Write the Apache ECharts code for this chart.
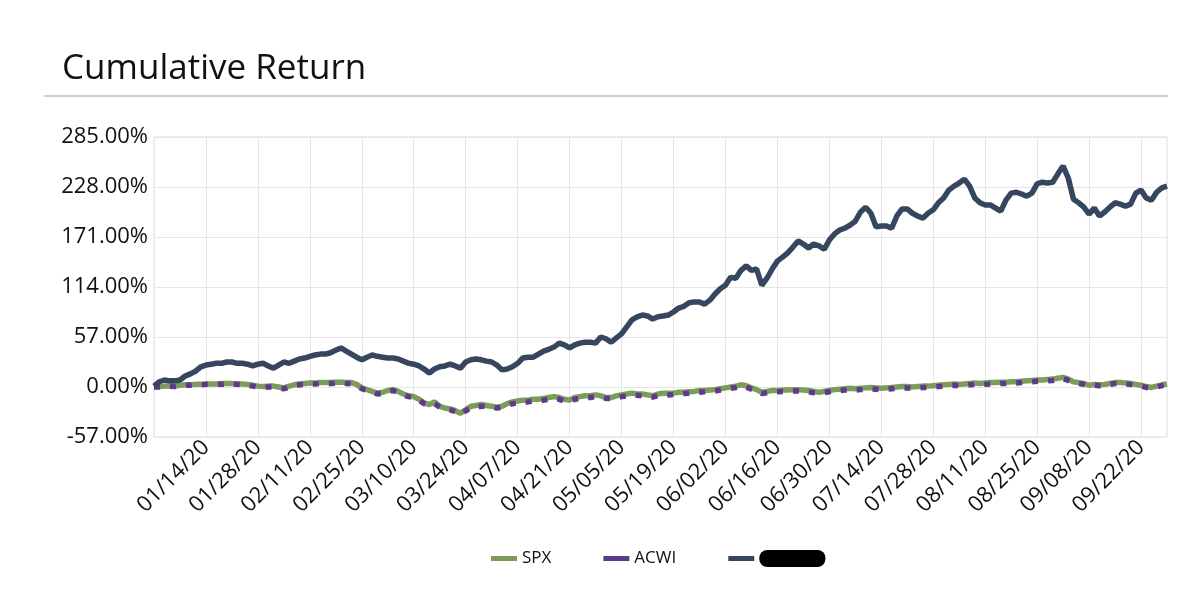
<!DOCTYPE html>
<html>
<head>
<meta charset="utf-8">
<script src="https://cdn.jsdelivr.net/npm/echarts@6/dist/echarts.min.js"></script>
<style>
html,body{margin:0;padding:0;background:#fff;}
#chart{width:1200px;height:602px;}
</style>
</head>
<body>
<div id="chart"></div>
<script>
// Trading-day categories: every weekday from 12/31/2019 to 09/29/2020
const startDate = [2019, 11, 31];
const dayCount = 196;
const categories = [];
(function () {
  const d = new Date(Date.UTC(startDate[0], startDate[1], startDate[2]));
  while (categories.length < dayCount) {
    const wd = d.getUTCDay();
    if (wd !== 0 && wd !== 6) {
      const mm = String(d.getUTCMonth() + 1).padStart(2, '0');
      const dd = String(d.getUTCDate()).padStart(2, '0');
      const yy = String(d.getUTCFullYear()).slice(2);
      categories.push(mm + '/' + dd + '/' + yy);
    }
    d.setUTCDate(d.getUTCDate() + 1);
  }
})();

const tickLabels = ['01/14/20','01/28/20','02/11/20','02/25/20','03/10/20','03/24/20','04/07/20','04/21/20','05/05/20','05/19/20','06/02/20','06/16/20','06/30/20','07/14/20','07/28/20','08/11/20','08/25/20','09/08/20','09/22/20'];

const yTicks = [-57, 0, 57, 114, 171, 228, 285];

const seriesNames = ['SPX', 'ACWI', 'Portfolio'];

const spx = [
  0, 0.5, 1, 1.5, 1, 2, 2.5, 2.5, 3, 3,
  3.5, 3.5, 3.5, 4, 4, 4, 3.5, 3.5, 3, 2,
  1, 0.5, 1, 1, 0, -1, 1, 2.5, 3.5, 4,
  4.5, 4.5, 5, 5, 5, 5.5, 5.5, 5, 5, 3,
  -1, -3, -5, -7, -6, -4, -3, -5, -8, -10,
  -11, -14, -18, -20, -17, -22, -24, -25, -27, -30,
  -26, -22, -21, -20, -21, -22, -23, -22, -19, -17,
  -16, -15, -15, -14, -14, -13, -12, -11, -12, -14,
  -15, -12, -11, -10, -10, -9, -10, -12, -12, -10,
  -9, -8, -7, -8, -8, -9, -10, -8, -7, -7,
  -7, -6, -6, -5.5, -5, -4, -4, -3.5, -3, -2,
  -1, 0, 1, 2.5, 1.5, -1, -3, -6, -5, -4,
  -4, -3.5, -3.5, -3, -3, -3.5, -4, -5, -6, -5,
  -4, -3, -2.5, -2, -1.5, -2, -1.5, -1, -0.5, -1,
  -1.5, -1, -0.5, 0, 0.5, 0.5, 0, 0.5, 1, 1,
  1.5, 2, 2.5, 3, 3.5, 3, 3.5, 4, 4.5, 4,
  4.5, 5, 5, 5.5, 5.5, 6, 6, 6.5, 7, 7.5,
  8, 8, 8.5, 9, 10, 11, 9, 6, 5, 4,
  2, 3, 2.5, 3, 4, 5, 5, 4.5, 4, 3,
  2, 0.5, -0.5, 1, 2.5, 3.5
];

const acwi = [
  0, 0, 0.5, 1, 0.5, 1.5, 2, 2, 2.5, 2.5,
  3, 3, 3, 3, 3.5, 3, 3, 2.5, 2, 1,
  0, -0.5, 0, 0, -1, -2, 0, 1.5, 2.5, 3,
  3.5, 3.5, 4, 4, 4, 4.5, 4.5, 4, 3.5, 1.5,
  -2, -4, -6, -8, -7, -5, -4, -6, -9, -11,
  -12, -15, -19, -21, -19, -23, -25, -26, -28, -31,
  -27, -24, -23, -22, -22, -23, -24, -23, -21, -19,
  -18, -17, -17, -16, -16, -15, -14, -13, -14, -16,
  -17, -14, -13, -12, -12, -11, -12, -13, -13, -12,
  -11, -10, -9, -9.5, -10, -11, -11.5, -10, -9, -9,
  -8.5, -8, -7.5, -7, -6.5, -6, -5.5, -5, -4.5, -3.5,
  -2.5, -1.5, -0.5, 1, 0, -2.5, -4.5, -7.5, -6.5, -5.5,
  -5.5, -5, -5, -4.5, -4.5, -5, -5.5, -6.5, -7, -6.5,
  -5.5, -4.5, -4, -3.5, -3, -3.5, -3, -2.5, -2, -2.5,
  -3, -2.5, -2, -1.5, -1, -1, -1.5, -1, -0.5, -0.5,
  0, 0.5, 1, 1.5, 2, 1.5, 2, 2.5, 3, 2.5,
  3, 3.5, 3.5, 4, 4, 4.5, 4.5, 5, 5.5, 6,
  6.5, 6.5, 7, 7.5, 8.5, 9.5, 7.5, 5, 4, 3,
  1, 2, 1.5, 2, 3, 4, 4, 3.5, 3, 2,
  1, -0.5, -1.5, 0, 1.5, 2.5
];

const portfolio = [
  1, 6, 8, 7, 7, 8, 12.5, 15, 18, 23,
  25, 26, 27, 27, 28.5, 28.5, 27, 27, 26, 24,
  26, 27, 24, 21.5, 25, 28.5, 27, 29.5, 32, 33,
  35, 36.5, 37.5, 37.5, 39, 42, 44.5, 41, 37.5, 34,
  31, 34, 36.5, 35, 34, 33, 33, 32, 29.5, 27,
  26, 24, 20.5, 16, 20.5, 23, 24, 26, 24, 21.5,
  28.5, 31, 32, 31, 29.5, 28.5, 25, 19.5, 20.5, 23,
  27, 33, 34, 34, 37.5, 41, 43, 45.5, 50, 48,
  44.5, 48, 50, 51, 51, 50, 57, 55, 51, 56,
  60.5, 68.5, 76.5, 80, 82, 81, 77.5, 80, 81, 82,
  85.5, 90, 92, 96, 97, 97, 94.5, 99, 106, 112,
  116, 125, 124, 133, 138, 133, 134.5, 116, 124, 134.5,
  143.5, 148, 153, 159.5, 166.5, 163, 158.5, 163, 161, 157,
  167.5, 174.5, 179, 181, 184.5, 189, 199.5, 205, 198, 182.5,
  183.5, 183.5, 181, 195, 203, 203, 198, 195, 192.5, 198,
  202, 210, 215.5, 224.5, 229, 232.5, 237, 229, 215.5, 210,
  207.5, 207.5, 204, 200.5, 213, 221, 222, 220, 217.5, 221,
  231.5, 233.5, 232.5, 233.5, 243, 252, 238, 214, 210, 205,
  197, 204, 195, 199.5, 205, 210, 208.5, 206, 208.5, 221,
  224.5, 215.5, 213, 222, 227, 229
];

const FONT = 'Open Sans';
const isTick = function (index) { return tickLabels.indexOf(categories[index]) !== -1; };

const chart = echarts.init(document.getElementById('chart'), null, { renderer: 'canvas' });
chart.setOption({
  backgroundColor: '#ffffff',
  animation: false,
  title: {
    text: 'Cumulative Return',
    left: 57,
    top: 47,
    textStyle: { fontFamily: FONT, fontSize: 35, fontWeight: 'normal', color: '#111' }
  },
  graphic: [{
    type: 'line',
    shape: { x1: 44, y1: 96, x2: 1168, y2: 96 },
    style: { stroke: '#cfcfcf', lineWidth: 2 }
  }],
  legend: {
    left: 486,
    top: 545,
    icon: 'rect',
    itemWidth: 26,
    itemHeight: 5,
    itemGap: 52,
    data: seriesNames,
    formatter: function (name) { return name === 'Portfolio' ? '{r|' + name + '}' : name; },
    textStyle: {
      fontFamily: FONT, fontSize: 17, color: '#111',
      rich: { r: { fontFamily: FONT, fontSize: 15, color: '#000', backgroundColor: '#000', borderRadius: 8, padding: [1, 3] } }
    }
  },
  grid: {
    left: 154, right: 33, top: 137, bottom: 165,
    show: true, borderColor: '#dcdcdc', borderWidth: 1
  },
  xAxis: {
    type: 'category',
    data: categories,
    boundaryGap: false,
    axisLine: { show: false },
    axisTick: { show: false },
    axisLabel: {
      interval: isTick,
      rotate: 45,
      margin: 7,
      fontFamily: FONT,
      fontSize: 22,
      color: '#111'
    },
    splitLine: { show: true, interval: isTick, lineStyle: { color: '#e6e6e6', width: 1 } }
  },
  yAxis: {
    type: 'value',
    min: yTicks[0],
    max: yTicks[yTicks.length - 1],
    interval: 57,
    axisLine: { show: false },
    axisTick: { show: false },
    axisLabel: {
      margin: 6,
      fontFamily: FONT,
      fontSize: 22,
      color: '#111',
      formatter: function (v) { return v.toFixed(2) + '%'; }
    },
    splitLine: { show: true, lineStyle: { color: '#e6e6e6', width: 1 } }
  },
  series: [
    {
      name: 'SPX', type: 'line', data: spx, showSymbol: false, symbol: 'none',
      itemStyle: { color: '#7c9c5c' },
      lineStyle: { color: '#7c9c5c', width: 5.5 }, z: 2
    },
    {
      name: 'ACWI', type: 'line', data: acwi, showSymbol: false, symbol: 'none',
      itemStyle: { color: '#5e3a8e' },
      lineStyle: { color: '#5e3a8e', width: 5.5, type: [6, 10] }, z: 3
    },
    {
      name: 'Portfolio', type: 'line', data: portfolio, showSymbol: false, symbol: 'none',
      itemStyle: { color: '#37465f' },
      lineStyle: { color: '#37465f', width: 5.5 }, z: 4
    }
  ]
});
</script>
</body>
</html>
